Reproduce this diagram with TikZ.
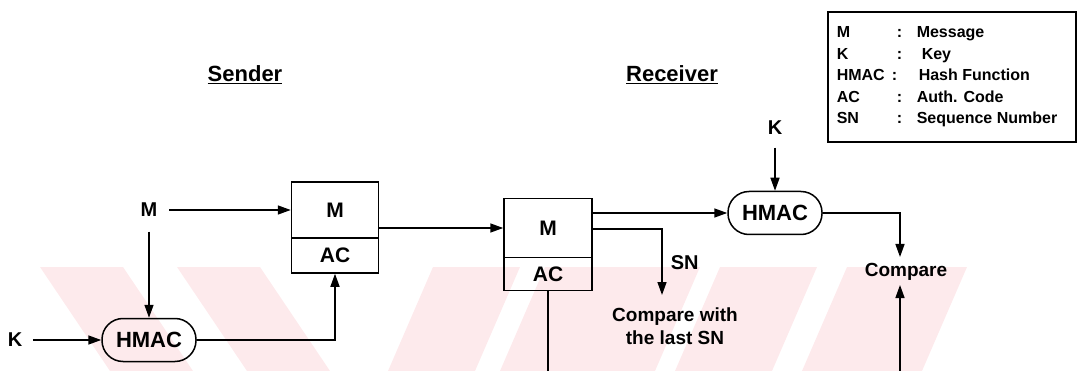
\documentclass[tikz,border=0pt]{standalone}
\usepackage{fontspec}
\setmainfont{Liberation Sans}
\usetikzlibrary{arrows.meta}
\definecolor{wmpink}{RGB}{253,234,236}
\begin{document}
\begin{tikzpicture}[x=1pt,y=-1pt,line width=1.5pt,
  lbl/.style={font=\bfseries\fontsize{20}{23}\selectfont, inner sep=0pt},
  title/.style={font=\bfseries\fontsize{22}{24}\selectfont, inner sep=0pt},
  hmac/.style={draw, rounded corners=21pt, minimum width=94pt, minimum height=43pt, inner sep=0pt, font=\bfseries\fontsize{22}{24}\selectfont},
  cell/.style={draw, minimum width=87pt, inner sep=0pt, font=\bfseries\fontsize{21}{24}\selectfont},
  arr/.style={-{Triangle[length=13pt,width=9pt]}},
  legtxt/.style={font=\bfseries\fontsize{16}{18}\selectfont, anchor=base west, inner sep=0pt},
  wm/.style={fill=wmpink, draw=none},
]
\useasboundingbox (0,0) rectangle (1078,371);
% faint watermark stripes
\fill[wm] (40,267) -- (123,267) -- (193,371) -- (110,371) -- cycle;
\fill[wm] (177,267) -- (260,267) -- (330,371) -- (247,371) -- cycle;
\fill[wm] (433,267) -- (520,267) -- (475,371) -- (388,371) -- cycle;
\fill[wm] (545,267) -- (700,267) -- (655,371) -- (500,371) -- cycle;
\fill[wm] (720,267) -- (817,267) -- (772,371) -- (675,371) -- cycle;
\fill[wm] (847,267) -- (967,267) -- (922,371) -- (802,371) -- cycle;
% titles
\node[title] (sender) at (245,75) {\underline{Sender}};
\node[title] (receiver) at (672,75) {\underline{Receiver}};
% sender side
\node[lbl] (mL) at (149,210) {M};
\node[lbl] (kL) at (15,340) {K};
\node[hmac] (sH) at (149,340) {HMAC};
\node[cell, minimum height=56pt] (sM) at (335,210) {M};
\node[cell, minimum height=35pt] (sAC) at (335,255.5) {AC};
% receiver side
\node[cell, minimum width=88pt, minimum height=59pt] (rM) at (548,228) {M};
\node[cell, minimum width=88pt, minimum height=33pt] (rAC) at (548,274) {AC};
\node[hmac] (rH) at (775,213) {HMAC};
\node[lbl] (kR) at (775,128) {K};
\node[lbl, anchor=west] (sn) at (670,263) {SN};
\node[lbl, align=center, anchor=north, font=\bfseries\fontsize{19}{23}\selectfont] (cw) at (675,307) {Compare with\\the last SN};
\node[lbl, font=\bfseries\fontsize{19}{23}\selectfont] (cmp) at (906,272) {Compare};
\coordinate (snTurn) at (662,229);
\coordinate (snEnd) at (662,295);
\coordinate (acBot) at (548,371);
\coordinate (cmpIn) at (900,257);
\coordinate (cmpUp) at (900,285);
\coordinate (cmpBot) at (900,371);
% connectors
\draw[arr, shorten <=11pt] (mL) -- (sM);
\draw[arr, shorten <=14pt] (mL) -- (sH);
\draw[arr, shorten <=10pt] (kL) -- (sH);
\draw[arr] (sH.east) -| (sAC.south);
\draw[arr] (sM.east |- rM.west) -- (rM.west);
\draw[arr] (rM.east |- rH.west) -- (rH.west);
\draw[arr] (rM.east |- snTurn) -- (snTurn) -- (snEnd);
\draw (rAC.south) -- (acBot);
\draw[arr, shorten <=12pt] (kR) -- (rH.north);
\draw[arr] (rH.east) -| (cmpIn);
\draw[arr] (cmpBot) -- (cmpUp);
% legend
\node[draw, minimum width=248pt, minimum height=130pt, inner sep=0pt] (legend) at (952,77) {};
\node[legtxt] (l1a) at (836,38) {M};
\node[legtxt] (l1b) at (896,38) {:};
\node[legtxt] (l1c) at (916,38) {Message};
\node[legtxt] (l2a) at (836,59.5) {K};
\node[legtxt] (l2b) at (896,59.5) {:};
\node[legtxt] (l2c) at (921,59.5) {Key};
\node[legtxt] (l3a) at (836,81) {HMAC};
\node[legtxt] (l3b) at (891,81) {:};
\node[legtxt] (l3c) at (918,81) {Hash Function};
\node[legtxt] (l4a) at (836,102.5) {AC};
\node[legtxt] (l4b) at (896,102.5) {:};
\node[legtxt] (l4c) at (916,102.5) {Auth. Code};
\node[legtxt] (l5a) at (836,124) {SN};
\node[legtxt] (l5b) at (896,124) {:};
\node[legtxt] (l5c) at (916,124) {Sequence Number};
\end{tikzpicture}
\end{document}
